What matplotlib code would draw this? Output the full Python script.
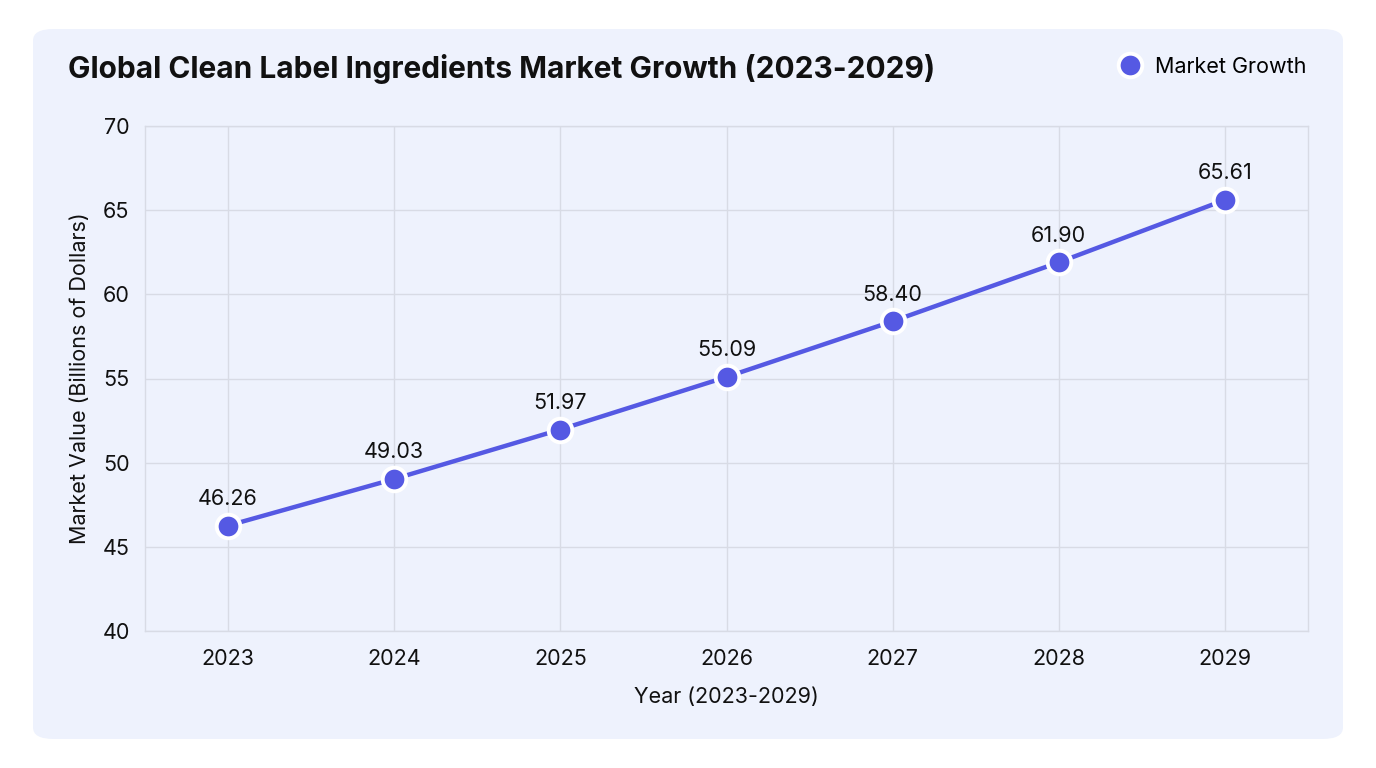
import matplotlib.pyplot as plt
from matplotlib.patches import FancyBboxPatch
from matplotlib.lines import Line2D

plt.rcParams['font.family'] = ['Inter', 'DejaVu Sans']

# chart data
years = ['2023', '2024', '2025', '2026', '2027', '2028', '2029']
market_values = [46.26, 49.03, 51.97, 55.09, 58.40, 61.90, 65.61]
y_ticks = [40, 45, 50, 55, 60, 65, 70]

line_color = '#5559E3'
panel_color = '#EEF2FD'
grid_color = '#D8DBE5'

fig = plt.figure(figsize=(13.76, 7.68), dpi=100)
fig.patch.set_facecolor('white')

# rounded background card
card = FancyBboxPatch((33 / 1376, 1 - 739 / 768), 1310 / 1376, 710 / 768,
                      boxstyle='round,pad=0,rounding_size=0.015',
                      transform=fig.transFigure, facecolor=panel_color,
                      edgecolor='none', zorder=-10)
fig.patches.append(card)

ax = fig.add_axes([145 / 1376, 1 - 631 / 768, 1163 / 1376, 505 / 768])
ax.set_facecolor(panel_color)

x = list(range(len(years)))
ax.plot(x, market_values, color=line_color, linewidth=3.2, zorder=3,
        marker='o', markersize=17, markerfacecolor=line_color,
        markeredgecolor='white', markeredgewidth=2.8, clip_on=False)

# value labels above points
for xi, v in zip(x, market_values):
    ax.annotate(f'{v:.2f}', (xi, v), xytext=(0, 12), textcoords='offset points',
                ha='center', va='bottom', fontsize=15.5, color='#111111')

ax.set_xlim(-0.5, len(years) - 0.5)
ax.set_ylim(40, 70)
ax.set_xticks(x)
ax.set_xticklabels(years)
ax.set_yticks(y_ticks)
ax.tick_params(axis='both', length=0, labelsize=15.5, colors='#111111')
ax.tick_params(axis='x', pad=13)
ax.tick_params(axis='y', pad=11)
ax.grid(True, color=grid_color, linewidth=1)
ax.set_axisbelow(True)
for s in ax.spines.values():
    s.set_color(grid_color)
    s.set_linewidth(1)

ax.set_xlabel('Year (2023-2029)', fontsize=15.5, color='#111111', labelpad=13)
ax.set_ylabel('Market Value (Billions of Dollars)', fontsize=15.5, color='#111111', labelpad=9)

fig.text(68 / 1376, 1 - 69 / 768, 'Global Clean Label Ingredients Market Growth (2023-2029)',
         fontsize=21.5, fontweight='bold', color='#111111', va='center', ha='left')

# legend in top-right corner of the card
handle = Line2D([], [], color=line_color, marker='o', linestyle='none', markersize=17,
                markeredgecolor='white', markeredgewidth=2.8)
fig.legend([handle], ['Market Growth'], loc='center right',
           bbox_to_anchor=(1315 / 1376, 1 - 67 / 768), frameon=False,
           fontsize=15.5, handletextpad=0.15, borderaxespad=0)

fig.savefig('out.png', dpi=100, facecolor='white')
